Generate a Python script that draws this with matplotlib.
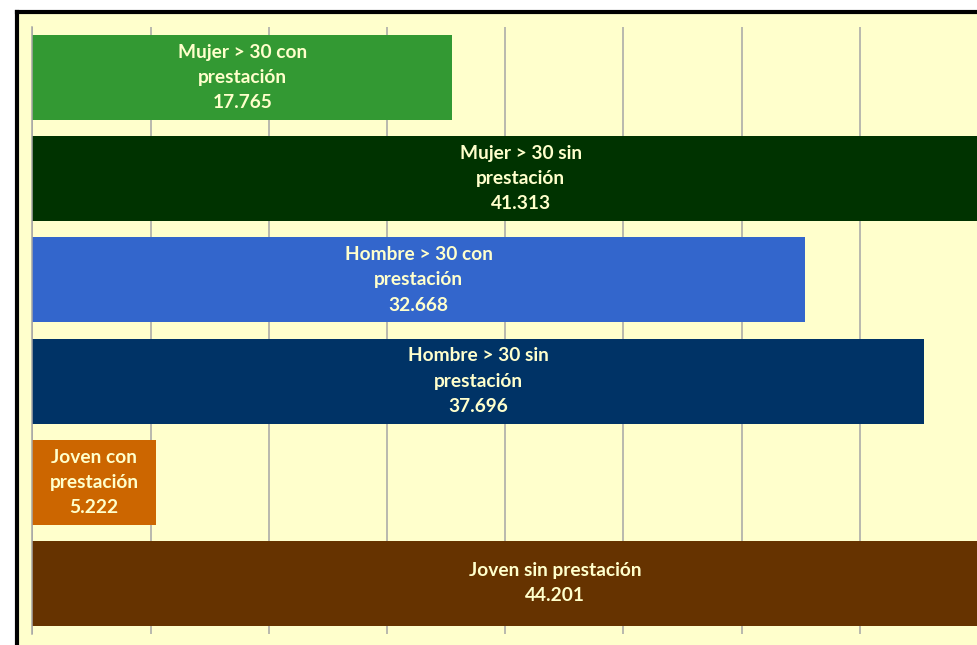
import matplotlib
matplotlib.use("Agg")
import matplotlib.pyplot as plt
from matplotlib.lines import Line2D
from matplotlib.patches import Rectangle

# ---- data (top bar first) ---------------------------------------------
categories = [
    "Mujer > 30 con\nprestación",
    "Mujer > 30 sin\nprestación",
    "Hombre > 30 con\nprestación",
    "Hombre > 30 sin\nprestación",
    "Joven con\nprestación",
    "Joven sin prestación",
]
values = [17765, 41313, 32668, 37696, 5222, 44201]
bar_colors = ["#339933", "#003300", "#3366CC", "#003366", "#CC6600", "#663300"]

BG = "#FFFFCC"
W, H = 978, 645


def fmt_thousands(v):
    return f"{v:,}".replace(",", ".")


fig = plt.figure(figsize=(W / 100, H / 100), dpi=100)
fig.patch.set_facecolor("white")

# yellow chart area and black frame (right/bottom edges are cropped off)
fx, fy = 17 / W, (H - 12) / H
fig.patches.append(Rectangle((fx, 0), 1 - fx, fy, transform=fig.transFigure,
                             facecolor=BG, edgecolor="none", zorder=-10))
fig.lines.append(Line2D([fx, fx], [0, fy], transform=fig.transFigure,
                        color="black", lw=3, solid_capstyle="projecting",
                        zorder=5))
fig.lines.append(Line2D([fx, 1], [fy, fy], transform=fig.transFigure,
                        color="black", lw=3, solid_capstyle="projecting",
                        zorder=5))

ax = fig.add_axes([32.5 / W, 11 / H, (W - 32.5) / W, 607 / H])
ax.set_facecolor(BG)

ypos = list(range(len(values)))[::-1]
ax.barh(ypos, values, height=0.84, color=bar_colors, zorder=2)

ax.set_xlim(0, 40000)
ax.set_ylim(-0.5, 5.5)
ax.set_xticks(range(0, 40001, 5000))
ax.grid(axis="x", color="#A6A6A6", lw=1.1, zorder=1)
ax.set_axisbelow(True)
ax.tick_params(left=False, bottom=False, labelleft=False, labelbottom=False)
for s in ("top", "right", "bottom"):
    ax.spines[s].set_visible(False)
ax.spines["left"].set_color("#A6A6A6")
ax.spines["left"].set_linewidth(1.1)

for y, cat, v in zip(ypos, categories, values):
    ax.text(v / 2, y, f"{cat}\n{fmt_thousands(v)}", ha="center", va="center",
            color=BG, fontsize=13.8, fontweight="bold", family="Lato",
            linespacing=1.58, zorder=3)

fig.savefig("out.png", dpi=100, facecolor=fig.get_facecolor())
